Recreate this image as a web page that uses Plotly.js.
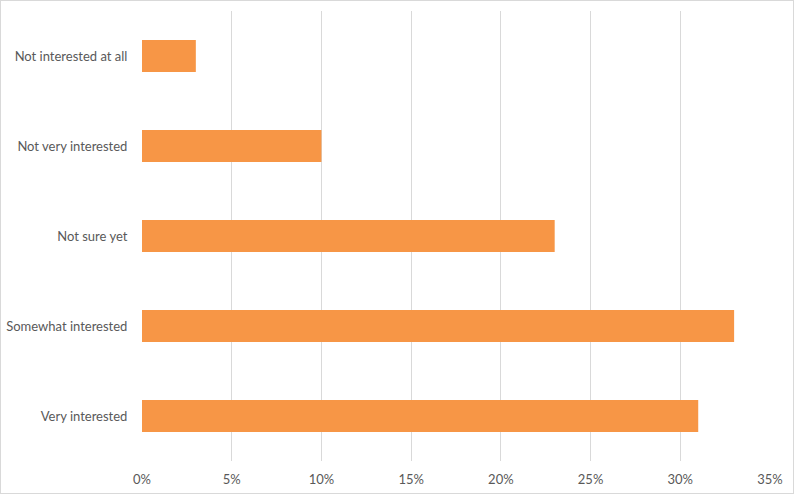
<!DOCTYPE html>
<html>
<head>
<meta charset="utf-8">
<script src="https://cdn.plot.ly/plotly-3.0.1.min.js"></script>
<style>
html,body{margin:0;padding:0;background:#fff;}
#chart{width:794px;height:494px;box-sizing:border-box;border:1px solid #d9d9d9;}
</style>
</head>
<body>
<div id="chart"></div>
<script>
var categories = ["Not interested at all", "Not very interested", "Not sure yet", "Somewhat interested", "Very interested"];
var values = [0.03, 0.10, 0.23, 0.33, 0.31];
var tickValues = [0, 0.05, 0.10, 0.15, 0.20, 0.25, 0.30, 0.35];
var tickLabels = ["0%", "5%", "10%", "15%", "20%", "25%", "30%", "35%"];

var trace = {
  type: 'bar',
  orientation: 'h',
  x: values,
  y: categories,
  marker: {color: '#F79646'},
  width: 0.355,
  hoverinfo: 'none'
};

var layout = {
  width: 792,
  height: 492,
  margin: {l: 141, r: 23, t: 10, b: 32, pad: 0},
  paper_bgcolor: '#ffffff',
  plot_bgcolor: '#ffffff',
  showlegend: false,
  font: {family: 'Lato, "Open Sans", sans-serif', size: 13, color: '#595959'},
  xaxis: {
    range: [0, 0.35],
    tickvals: tickValues,
    ticktext: tickLabels,
    showgrid: true,
    gridcolor: '#d9d9d9',
    gridwidth: 1,
    zeroline: false,
    showline: false,
    ticks: 'outside',
    ticklen: 6,
    tickcolor: 'rgba(0,0,0,0)',
    tickfont: {size: 13, color: '#595959'}
  },
  yaxis: {
    type: 'category',
    autorange: 'reversed',
    showgrid: false,
    zeroline: false,
    showline: false,
    ticks: 'outside',
    ticklen: 11,
    tickcolor: 'rgba(0,0,0,0)',
    tickfont: {size: 13, color: '#595959'}
  }
};

Plotly.newPlot('chart', [trace], layout, {displayModeBar: false, staticPlot: true});
</script>
</body>
</html>
